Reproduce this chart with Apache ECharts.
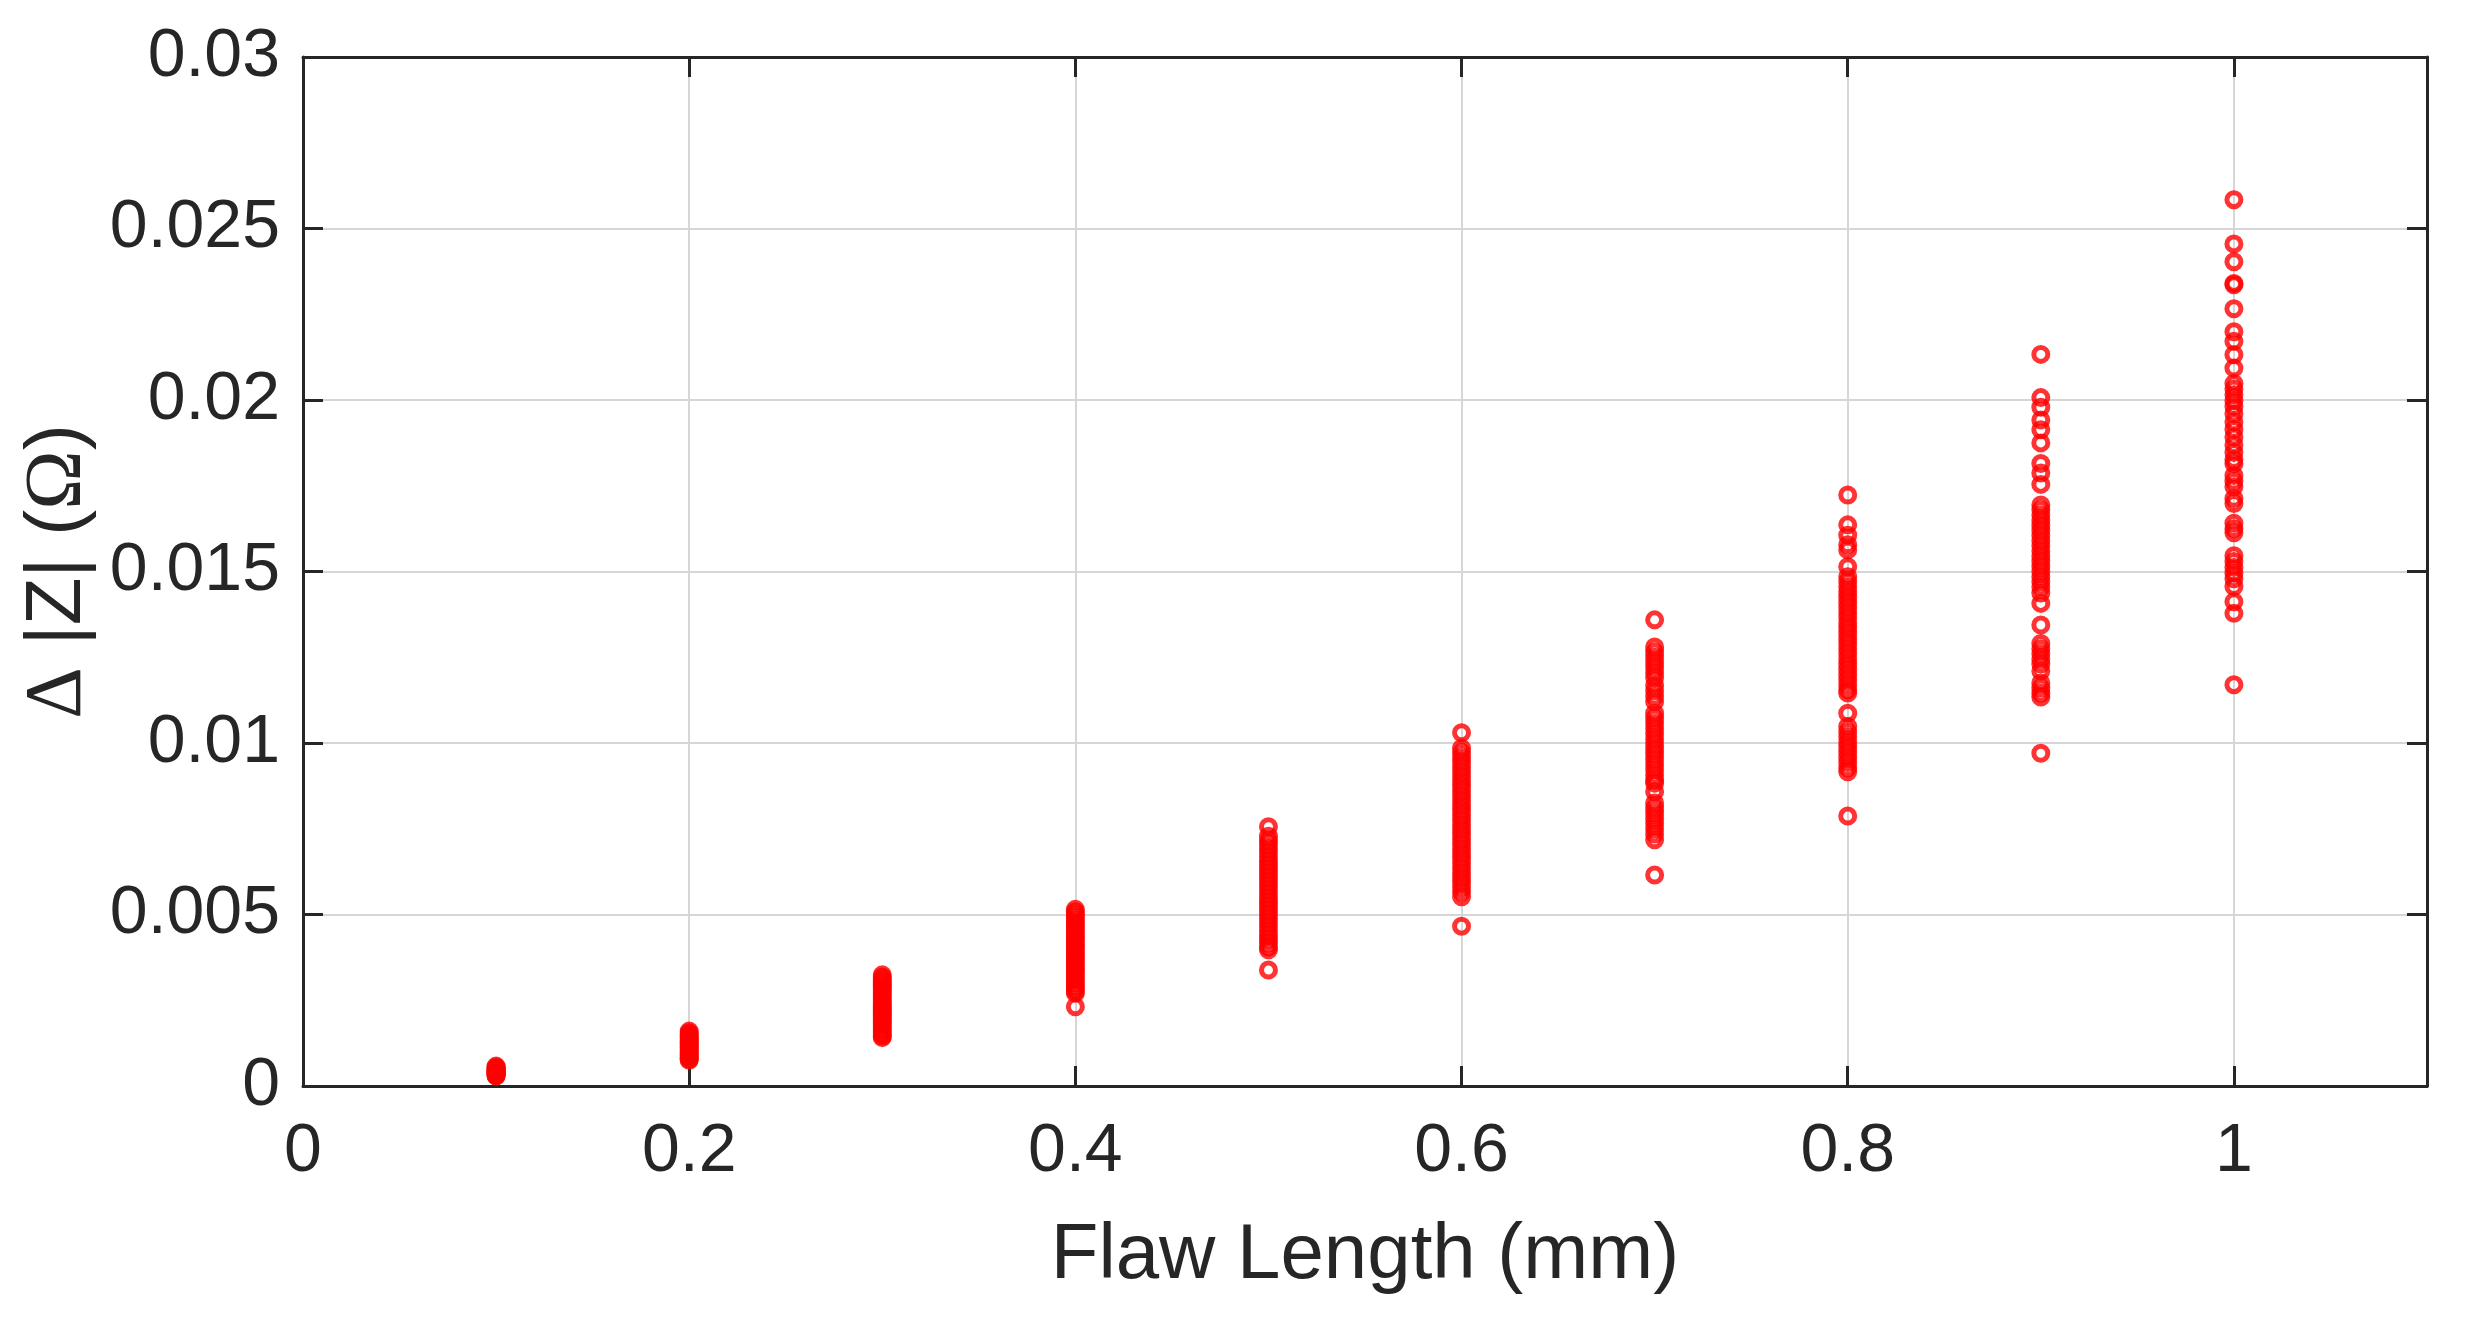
<!DOCTYPE html>
<html>
<head>
<meta charset="utf-8">
<title>Flaw Length vs delta |Z|</title>
<script src="https://cdn.jsdelivr.net/npm/echarts@6/dist/echarts.min.js"></script>
<style>
  html, body { margin: 0; padding: 0; background: #fff; }
  #main { width: 2471px; height: 1317px; }
</style>
</head>
<body>
<div id="main"></div>
<script>
// flaw lengths (mm), one column of points per length
var flawLengths = [0.1, 0.2, 0.3, 0.4, 0.5, 0.6, 0.7, 0.8, 0.9, 1.0];
var xTicks = [0, 0.2, 0.4, 0.6, 0.8, 1];
var yTicks = [0, 0.005, 0.01, 0.015, 0.02, 0.025, 0.03];

// delta |Z| (ohm)
var dz01 = [0.00058, 0.00055, 0.00052, 0.0005, 0.00048, 0.00046, 0.00044, 0.00043, 0.00041, 0.0004, 0.00038, 0.00037, 0.00035, 0.00034, 0.00032, 0.0003, 0.00029];
var dz02 = [0.0016, 0.00155, 0.0015, 0.00146, 0.00142, 0.00138, 0.00134, 0.0013, 0.00126, 0.00122, 0.00118, 0.00114, 0.0011, 0.00106, 0.00102, 0.00098, 0.00094, 0.0009, 0.00086, 0.00082, 0.00078, 0.00075];
var dz03 = [0.00324, 0.00318, 0.00312, 0.00306, 0.003, 0.00295, 0.0029, 0.00284, 0.00278, 0.00272, 0.00266, 0.0026, 0.00254, 0.00248, 0.00242, 0.00236, 0.0023, 0.00224, 0.00218, 0.00212, 0.00206, 0.002, 0.00194, 0.00188, 0.00182, 0.00176, 0.0017, 0.00164, 0.00158, 0.00152, 0.00146, 0.00141];
var dz04 = [0.00515, 0.00508, 0.005, 0.00492, 0.00484, 0.00476, 0.00468, 0.0046, 0.00452, 0.00444, 0.00436, 0.00428, 0.0042, 0.00412, 0.00404, 0.00396, 0.00388, 0.0038, 0.00372, 0.00364, 0.00356, 0.00348, 0.0034, 0.00332, 0.00324, 0.00316, 0.00308, 0.003, 0.00292, 0.00284, 0.00277, 0.00271, 0.00231];
var dz05 = [0.00756, 0.00728, 0.00716, 0.00704, 0.00692, 0.0068, 0.00668, 0.00656, 0.00644, 0.00632, 0.0062, 0.00608, 0.00596, 0.00584, 0.00572, 0.0056, 0.00548, 0.00536, 0.00524, 0.00512, 0.005, 0.00488, 0.00476, 0.00464, 0.00452, 0.0044, 0.00428, 0.00416, 0.00405, 0.00397, 0.00338];
var dz06 = [0.0103, 0.00985, 0.00972, 0.00958, 0.00944, 0.0093, 0.00916, 0.00902, 0.00888, 0.00874, 0.0086, 0.00846, 0.00832, 0.00818, 0.00804, 0.0079, 0.00776, 0.00762, 0.00748, 0.00734, 0.0072, 0.00706, 0.00692, 0.00678, 0.00664, 0.0065, 0.00636, 0.00622, 0.00608, 0.00594, 0.0058, 0.00566, 0.00552, 0.00466];
var dz07 = [0.01359, 0.0128, 0.01265, 0.0125, 0.01235, 0.0122, 0.01205, 0.0119, 0.01168, 0.01152, 0.01136, 0.0112, 0.01087, 0.01072, 0.01057, 0.01042, 0.01027, 0.01012, 0.00997, 0.00982, 0.00967, 0.00952, 0.00937, 0.00922, 0.00907, 0.00892, 0.00883, 0.00858, 0.00825, 0.0081, 0.00795, 0.0078, 0.00765, 0.0075, 0.00735, 0.00718, 0.00615];
var dz08 = [0.01723, 0.01636, 0.01606, 0.01578, 0.01563, 0.01514, 0.01485, 0.0147, 0.01455, 0.0144, 0.01425, 0.0141, 0.01395, 0.0138, 0.01365, 0.0135, 0.01335, 0.0132, 0.01305, 0.0129, 0.01275, 0.0126, 0.01245, 0.0123, 0.01215, 0.012, 0.01185, 0.0117, 0.01155, 0.01146, 0.01087, 0.01048, 0.01033, 0.01018, 0.01003, 0.00988, 0.00973, 0.00958, 0.00943, 0.00928, 0.00916, 0.00787];
var dz09 = [0.02133, 0.02007, 0.01979, 0.01942, 0.01913, 0.01875, 0.01815, 0.01787, 0.01754, 0.01694, 0.0168, 0.01665, 0.0165, 0.01635, 0.0162, 0.01605, 0.0159, 0.01575, 0.0156, 0.01545, 0.0153, 0.01515, 0.015, 0.01485, 0.0147, 0.01455, 0.01437, 0.01407, 0.01344, 0.0129, 0.01275, 0.0126, 0.01245, 0.0123, 0.0121, 0.01175, 0.0116, 0.01145, 0.01134, 0.0097];
var dz10 = [0.02584, 0.02455, 0.02403, 0.0234, 0.02336, 0.02266, 0.02199, 0.02171, 0.02132, 0.02093, 0.02048, 0.02032, 0.02015, 0.01998, 0.01981, 0.0196, 0.01936, 0.01914, 0.01892, 0.01869, 0.01847, 0.01826, 0.01814, 0.0178, 0.01763, 0.01747, 0.01713, 0.01698, 0.01641, 0.01625, 0.01613, 0.01546, 0.01529, 0.01512, 0.01495, 0.01479, 0.01456, 0.01412, 0.01378, 0.0117];

var columns = [dz01, dz02, dz03, dz04, dz05, dz06, dz07, dz08, dz09, dz10];

var points = [];
columns.forEach(function (col, i) {
    col.forEach(function (v) {
        points.push([flawLengths[i], v]);
    });
});

var FONT = 'Liberation Sans, Arial, Helvetica, sans-serif';
var INK = '#262626';
var GRID = '#d6d6d6';

var chart = echarts.init(document.getElementById('main'));

// mirrored top/right axes only draw the box edge and inward ticks
function boxAxis(pos, min, max, step, ticks) {
    return {
        type: 'value',
        position: pos,
        min: min,
        max: max,
        interval: step,
        axisLine: { show: true, onZero: false, lineStyle: { color: INK, width: 3 } },
        axisTick: { show: true, inside: true, length: 20, customValues: ticks, lineStyle: { color: INK, width: 3 } },
        axisLabel: { show: false },
        splitLine: { show: false }
    };
}

option = {
    backgroundColor: '#fff',
    animation: false,
    grid: {
        left: 303,
        right: 44,
        top: 57,
        bottom: 231,
        containLabel: false
    },
    xAxis: [
        {
            type: 'value',
            position: 'bottom',
            min: 0,
            max: 1.1,
            interval: 0.2,
            name: 'Flaw Length (mm)',
            nameLocation: 'middle',
            nameGap: 131,
            nameTextStyle: { fontFamily: FONT, fontSize: 78, color: INK },
            axisLine: { show: true, onZero: false, lineStyle: { color: INK, width: 3 } },
            axisTick: { show: true, inside: true, length: 20, customValues: xTicks, lineStyle: { color: INK, width: 3 } },
            axisLabel: {
                fontFamily: FONT, fontSize: 68, color: INK, margin: 32,
                customValues: xTicks
            },
            splitLine: { show: true, lineStyle: { color: GRID, width: 2 } }
        },
        boxAxis('top', 0, 1.1, 0.2, xTicks)
    ],
    yAxis: [
        {
            type: 'value',
            position: 'left',
            min: 0,
            max: 0.03,
            interval: 0.005,
            name: '{g|Δ} |Z| ({g|Ω})',
            nameLocation: 'middle',
            nameGap: 204,
            nameTextStyle: {
                fontFamily: FONT, fontSize: 78, color: INK,
                rich: { g: { fontFamily: 'Liberation Serif, Times New Roman, serif', fontSize: 80, color: INK } }
            },
            axisLine: { show: true, onZero: false, lineStyle: { color: INK, width: 3 } },
            axisTick: { show: true, inside: true, length: 20, lineStyle: { color: INK, width: 3 } },
            axisLabel: { fontFamily: FONT, fontSize: 68, color: INK, margin: 23 },
            splitLine: { show: true, lineStyle: { color: GRID, width: 2 } }
        },
        boxAxis('right', 0, 0.03, 0.005, yTicks)
    ],
    series: [
        {
            type: 'scatter',
            xAxisIndex: 0,
            yAxisIndex: 0,
            symbol: 'circle',
            symbolSize: 14,
            itemStyle: {
                color: 'rgba(0,0,0,0)',
                borderColor: '#ff0000',
                borderWidth: 5
            },
            data: points
        }
    ]
};

chart.setOption(option);
</script>
</body>
</html>
